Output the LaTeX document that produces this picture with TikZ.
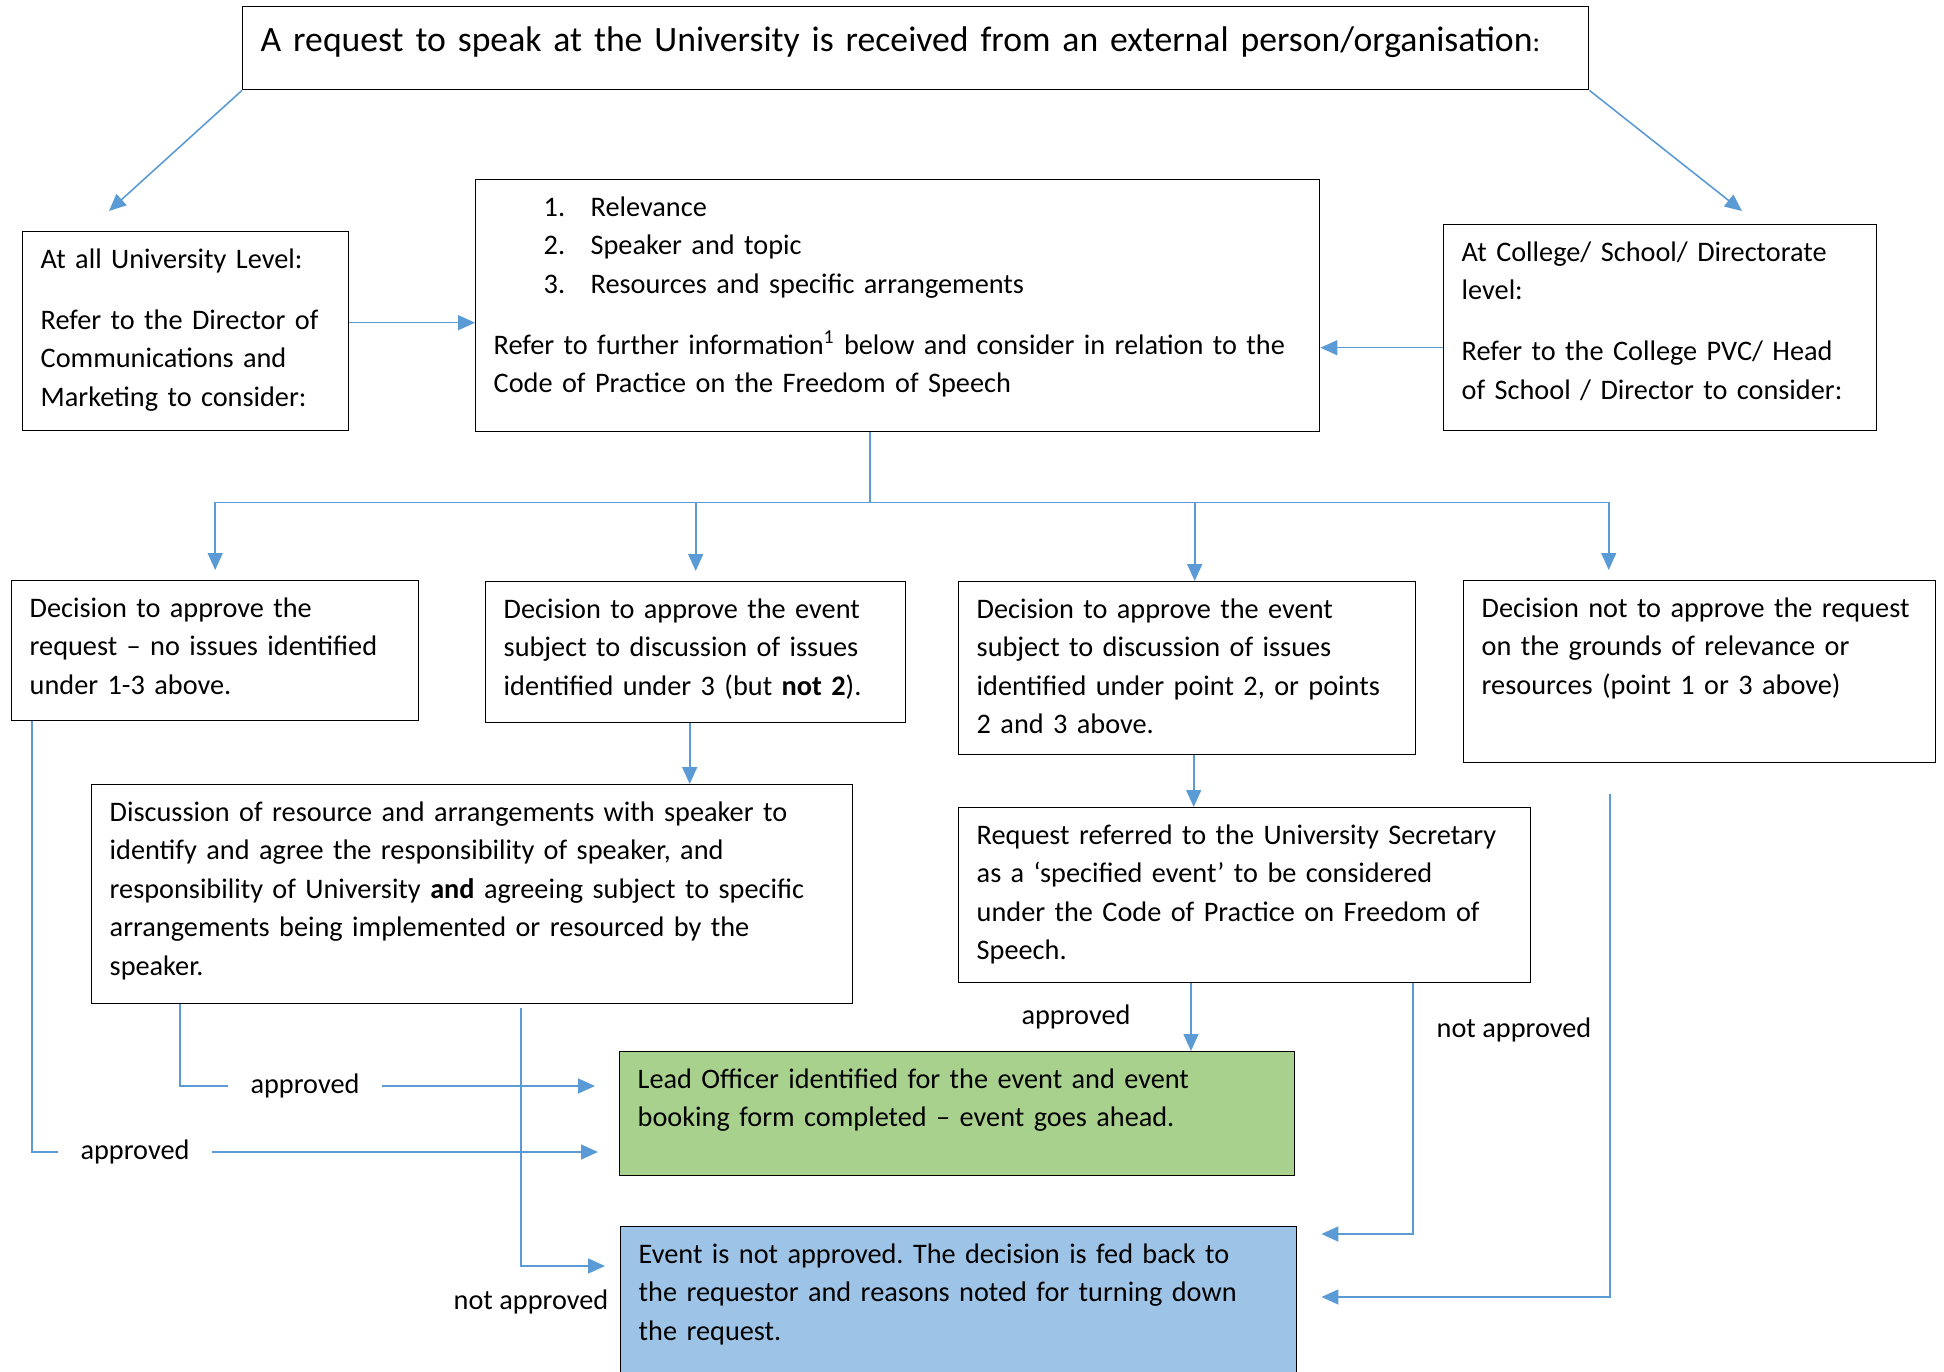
\documentclass[tikz,border=0pt]{standalone}
\usepackage{fontspec}
\setmainfont{Carlito}
\usetikzlibrary{arrows.meta}
\definecolor{linkblue}{HTML}{5B9BD5}
\definecolor{goodgreen}{HTML}{A9D18E}
\definecolor{badblue}{HTML}{9DC3E6}
\newcommand{\boxfont}{\fontsize{16.1}{21.9}\selectfont}
\newcommand{\titlefont}{\fontsize{20.3}{25}\selectfont}
\newcommand{\listno}[1]{\hspace*{1.0cm}\makebox[0.94cm][l]{#1}}
\frenchspacing
\begin{document}
\begin{tikzpicture}[x=0.02cm, y=-0.02cm, every node/.style={font=\boxfont},
	panel/.style 2 args={draw, line width=0.8pt, anchor=north west, align=left, inner xsep=0.36cm, inner ysep=0pt,
		text width=#1*0.02cm-0.72cm, text height=0.73cm, text depth=#2*0.02cm-0.73cm},
	flow/.style={draw=linkblue, line width=0.9pt, -{Triangle[length=0.34cm, width=0.3cm]}},
	link/.style={draw=linkblue, line width=0.9pt},
	tag/.style={inner xsep=0.45cm, inner ysep=0pt}]
		\clip (0,0) rectangle (1944,1372);
		\node[panel={1346}{83}, text height=0.9cm, text depth=0.76cm, font=\titlefont] (req) at (242,6)
			{A request to speak at the University is received from an external person/organisation{\boxfont:}};
		\node[panel={326}{199}] (uni) at (22,231)
			{At all University Level:\\[0.45cm] Refer to the Director of\\ Communications and\\ Marketing to consider:};
		\node[panel={844}{252}] (crit) at (475,179)
			{\listno{1.}Relevance\\ \listno{2.}Speaker and topic\\ \listno{3.}Resources and specific arrangements\\[0.45cm]
			Refer to further information\textsuperscript{1} below and consider in relation to the\\ Code of Practice on the Freedom of Speech};
		\node[panel={433}{206}] (col) at (1443,224)
			{At College/ School/ Directorate\\ level:\\[0.45cm] Refer to the College PVC/ Head\\ of School / Director to consider:};
		\node[panel={407}{140}] (d1) at (11,580)
			{Decision to approve the\\ request – no issues identified\\ under 1-3 above.};
		\node[panel={420}{141}] (d2) at (485,581)
			{Decision to approve the event\\ subject to discussion of issues\\ identified under 3 (but \textbf{not 2}).};
		\node[panel={457}{173}] (d3) at (958,581)
			{Decision to approve the event\\ subject to discussion of issues\\ identified under point 2, or points\\ 2 and 3 above.};
		\node[panel={472}{182}] (d4) at (1463,580)
			{Decision not to approve the request\\ on the grounds of relevance or\\ resources (point 1 or 3 above)};
		\node[panel={761}{219}] (disc) at (91,784)
			{Discussion of resource and arrangements with speaker to\\ identify and agree the responsibility of speaker, and\\
			responsibility of University \textbf{and} agreeing subject to specific\\ arrangements being implemented or resourced by the\\ speaker.};
		\node[panel={572}{175}] (spec) at (958,807)
			{Request referred to the University Secretary\\ as a ‘specified event’ to be considered\\ under the Code of Practice on Freedom of\\ Speech.};
		\node[panel={675}{124}, fill=goodgreen] (ahead) at (619,1051)
			{Lead Officer identified for the event and event\\ booking form completed – event goes ahead.};
		\node[panel={676}{170}, fill=badblue] (refused) at (620,1226)
			{Event is not approved. The decision is fed back to\\ the requestor and reasons noted for turning down\\ the request.};
		\node[tag] (ok1) at (135,1152) {approved};
		\node[tag] (ok2) at (305,1086) {approved};
		\node[tag] (ok3) at (1076,1017) {approved};
		\node[tag] (no1) at (531,1302) {not approved};
		\node[tag] (no2) at (1514,1030) {not approved};
		\draw[flow] (req.south west) -- ([shift={(1.74cm,0.4cm)}]uni.north west);
		\draw[flow] (req.south east) -- ([shift={(5.98cm,0.26cm)}]col.north west);
		\draw[flow] ([yshift=0.17cm]uni.east) -- ([yshift=0.17cm]uni.east -| crit.west);
		\draw[flow] ([yshift=-0.4cm]col.west) -- ([yshift=-0.4cm]col.west -| crit.east);
		\path ([xshift=-0.56cm]crit.south) ++(0,70) coordinate (split);
		\draw[link] ([xshift=-0.56cm]crit.south) -- (split);
		\draw[flow] (split) -| ([yshift=0.2cm]d1.north);
		\draw[flow] (split) -| ([yshift=0.2cm]d2.north);
		\draw[flow] (split) -| ([xshift=0.15cm]d3.north);
		\draw[flow] (split) -| ([shift={(-1.82cm,0.2cm)}]d4.north);
		\draw[flow] ([xshift=-0.12cm]d2.south) -- ([xshift=-0.12cm]d2.south |- disc.north);
		\draw[flow] ([xshift=0.13cm]d3.south) -- ([xshift=0.13cm]d3.south |- spec.north);
		\draw[link] ([xshift=0.42cm]d1.south west) |- (ok1.west);
		\draw[flow] (ok1.east) -- ([xshift=-0.42cm]ok1.east -| ahead.west);
		\draw[link] ([xshift=1.78cm]disc.south west) |- (ok2.west);
		\draw[flow] (ok2.east) -- ([xshift=-0.48cm]ok2.east -| ahead.west);
		\draw[flow] ([shift={(8.6cm,-0.08cm)}]disc.south west) |- ([shift={(-0.3cm,-0.8cm)}]refused.north west);
		\draw[flow] ([xshift=4.66cm]spec.south west) -- ([xshift=4.66cm]spec.south west |- ahead.north);
		\draw[flow] ([xshift=9.1cm]spec.south west) |- ([shift={(0.48cm,-0.16cm)}]refused.north east);
		\draw[flow] ([shift={(2.94cm,-0.62cm)}]d4.south west) |- ([shift={(0.48cm,-1.42cm)}]refused.north east);
		\end{tikzpicture}
\end{document}
